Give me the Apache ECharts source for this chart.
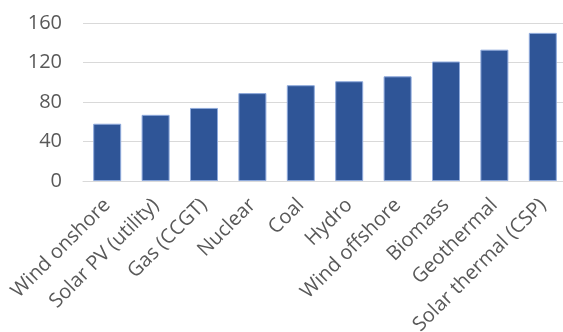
<!DOCTYPE html>
<html>
<head>
<meta charset="utf-8">
<script src="https://cdn.jsdelivr.net/npm/echarts@6/dist/echarts.min.js"></script>
<style>
  html, body { margin: 0; padding: 0; background: #ffffff; }
  #chart { width: 563px; height: 332px; }
</style>
</head>
<body>
<div id="chart"></div>
<script>
// Levelized cost by generation technology
const categories = [
  'Wind onshore', 'Solar PV (utility)', 'Gas (CCGT)', 'Nuclear', 'Coal',
  'Hydro', 'Wind offshore', 'Biomass', 'Geothermal', 'Solar thermal (CSP)'
];
const costs = [58, 67, 74, 89, 97, 101, 106, 121, 133, 150];
const yTicks = { min: 0, max: 160, interval: 40 };

const textColor = '#595959';
const fontFamily = '"Open Sans", "Noto Sans", sans-serif';

const chart = echarts.init(document.getElementById('chart'), null, { renderer: 'canvas' });
chart.setOption({
  animation: false,
  grid: {
    left: 83, top: 23, width: 484, height: 158,
    containLabel: false,
    outerBoundsMode: 'none'
  },
  xAxis: {
    type: 'category',
    data: categories,
    axisLine: { show: true, lineStyle: { color: '#D9D9D9', width: 1 } },
    axisTick: { show: false },
    axisLabel: {
      interval: 0,
      rotate: 45,
      margin: 21,
      padding: [8, 0, 0, 0],
      color: textColor,
      fontFamily: fontFamily,
      fontSize: 20
    }
  },
  yAxis: {
    type: 'value',
    min: yTicks.min,
    max: yTicks.max,
    interval: yTicks.interval,
    axisLine: { show: false },
    axisTick: { show: false },
    splitLine: { lineStyle: { color: '#D9D9D9', width: 1 } },
    axisLabel: {
      margin: 21,
      color: textColor,
      fontFamily: fontFamily,
      fontSize: 20
    }
  },
  series: [{
    type: 'bar',
    data: costs,
    barWidth: 28,
    itemStyle: {
      color: '#2F5597',
      borderColor: '#8FAADC',
      borderWidth: 1
    }
  }]
});
</script>
</body>
</html>
